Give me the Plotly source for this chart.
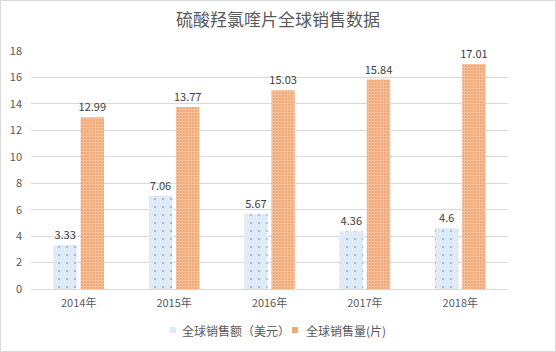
import plotly.graph_objects as go

years = ["2014年", "2015年", "2016年", "2017年", "2018年"]
sales_usd = [3.33, 7.06, 5.67, 4.36, 4.6]
sales_qty = [12.99, 13.77, 15.03, 15.84, 17.01]
name_usd = "全球销售额（美元）"
name_qty = "全球销售量(片)"
title = "硫酸羟氯喹片全球销售数据"

W, H = 556, 352
L, R, T, B = 31, 48, 51, 63
pw, ph = W - L - R, H - T - B

def px(x):
    return (x - L) / pw

def py(y):
    return (H - B - y) / ph

font = "Noto Sans CJK SC, Microsoft YaHei, sans-serif"

fig = go.Figure()
fig.add_trace(go.Bar(
    x=years, y=sales_usd, name=name_usd,
    marker=dict(color="#DEEAF6", line=dict(width=0),
                pattern=dict(shape=".", fgcolor="#6F8DC2", bgcolor="#DEEAF6", size=8, solidity=0.07)),
    text=[str(v) for v in sales_usd], textposition="outside", constraintext="none",
    textfont=dict(size=11, color="#404040", family=font), cliponaxis=False,
))
fig.add_trace(go.Bar(
    x=years, y=sales_qty, name=name_qty,
    marker=dict(color="#ED7D31", line=dict(width=0),
                pattern=dict(shape=".", fgcolor="#FFFFFF", bgcolor="#ED7D31", size=3, solidity=0.8)),
    text=[str(v) for v in sales_qty], textposition="outside", constraintext="none",
    textfont=dict(size=11, color="#404040", family=font), cliponaxis=False,
))

# legend drawn as icons + text
legend_items = [
    (170, 180, name_usd, "#DEEAF6"),
    (292, 304, name_qty, "#F3A878"),
]
shapes = [dict(type="rect", xref="paper", yref="paper",
               x0=px(0.5), x1=px(W - 0.5), y0=py(H - 0.5), y1=py(0.5),
               line=dict(color="#D9D9D9", width=1), fillcolor="rgba(0,0,0,0)", layer="below")]
annotations = []
for ix, tx, label, fill in legend_items:
    shapes.append(dict(type="rect", xref="paper", yref="paper",
                       x0=px(ix), x1=px(ix + 6), y0=py(333), y1=py(327),
                       line=dict(width=0), fillcolor=fill))
    annotations.append(dict(text=label, xref="paper", yref="paper", x=px(tx), y=py(330),
                            xanchor="left", yanchor="middle", showarrow=False,
                            font=dict(size=12, color="#595959", family=font)))

fig.update_layout(
    width=W, height=H,
    margin=dict(l=L, r=R, t=T, b=B, autoexpand=False),
    paper_bgcolor="white", plot_bgcolor="white",
    font=dict(family=font, color="#595959", size=11),
    title=dict(text=title, x=0.5, xanchor="center", y=1 - 20 / H, yanchor="middle",
               font=dict(size=17, color="#595959", family=font)),
    barmode="group", bargap=0.43, bargroupgap=0.14,
    showlegend=False,
    xaxis=dict(showgrid=False, showline=True, linecolor="#D9D9D9", linewidth=1,
               ticks="", tickfont=dict(size=11, color="#595959"), ticklabelstandoff=4),
    yaxis=dict(range=[0, 18], dtick=2, showgrid=True, gridcolor="#D9D9D9", gridwidth=1,
               zeroline=False, showline=False, ticks="", tickfont=dict(size=11, color="#595959"),
               ticklabelstandoff=8),
    shapes=shapes,
    annotations=annotations,
)

fig.write_html("out.html")
